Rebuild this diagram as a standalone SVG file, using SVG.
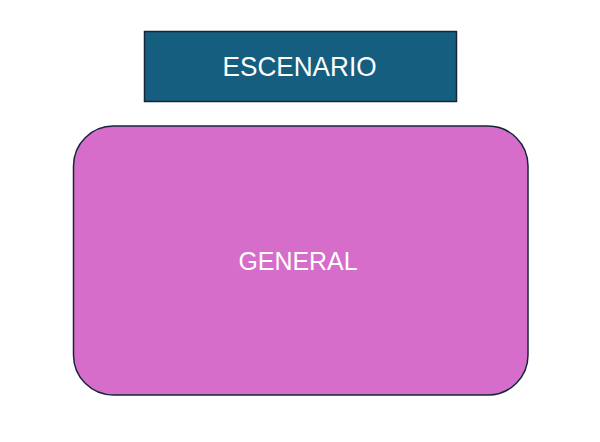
<svg xmlns="http://www.w3.org/2000/svg" width="600" height="442" viewBox="0 0 600 442">
<style>
.lbl{font-family:"Liberation Sans",Arial,sans-serif;fill:#ffffff;text-anchor:middle}
.box{stroke:#16263a;stroke-width:1.5}
</style>
<rect width="600" height="442" fill="#ffffff"/>
<g id="escenario">
<rect class="box" x="144.5" y="31.5" width="312" height="70" fill="#155e80"/>
<text class="lbl" x="299.5" y="76" font-size="27.5" textLength="154" lengthAdjust="spacingAndGlyphs">ESCENARIO</text>
</g>
<g id="general">
<rect class="box" x="73.5" y="126" width="454.5" height="269" rx="40" ry="40" fill="#d66dcb"/>
<text class="lbl" x="298" y="270" font-size="25.5" textLength="119" lengthAdjust="spacingAndGlyphs">GENERAL</text>
</g>
<g id="connectors"></g>
</svg>
